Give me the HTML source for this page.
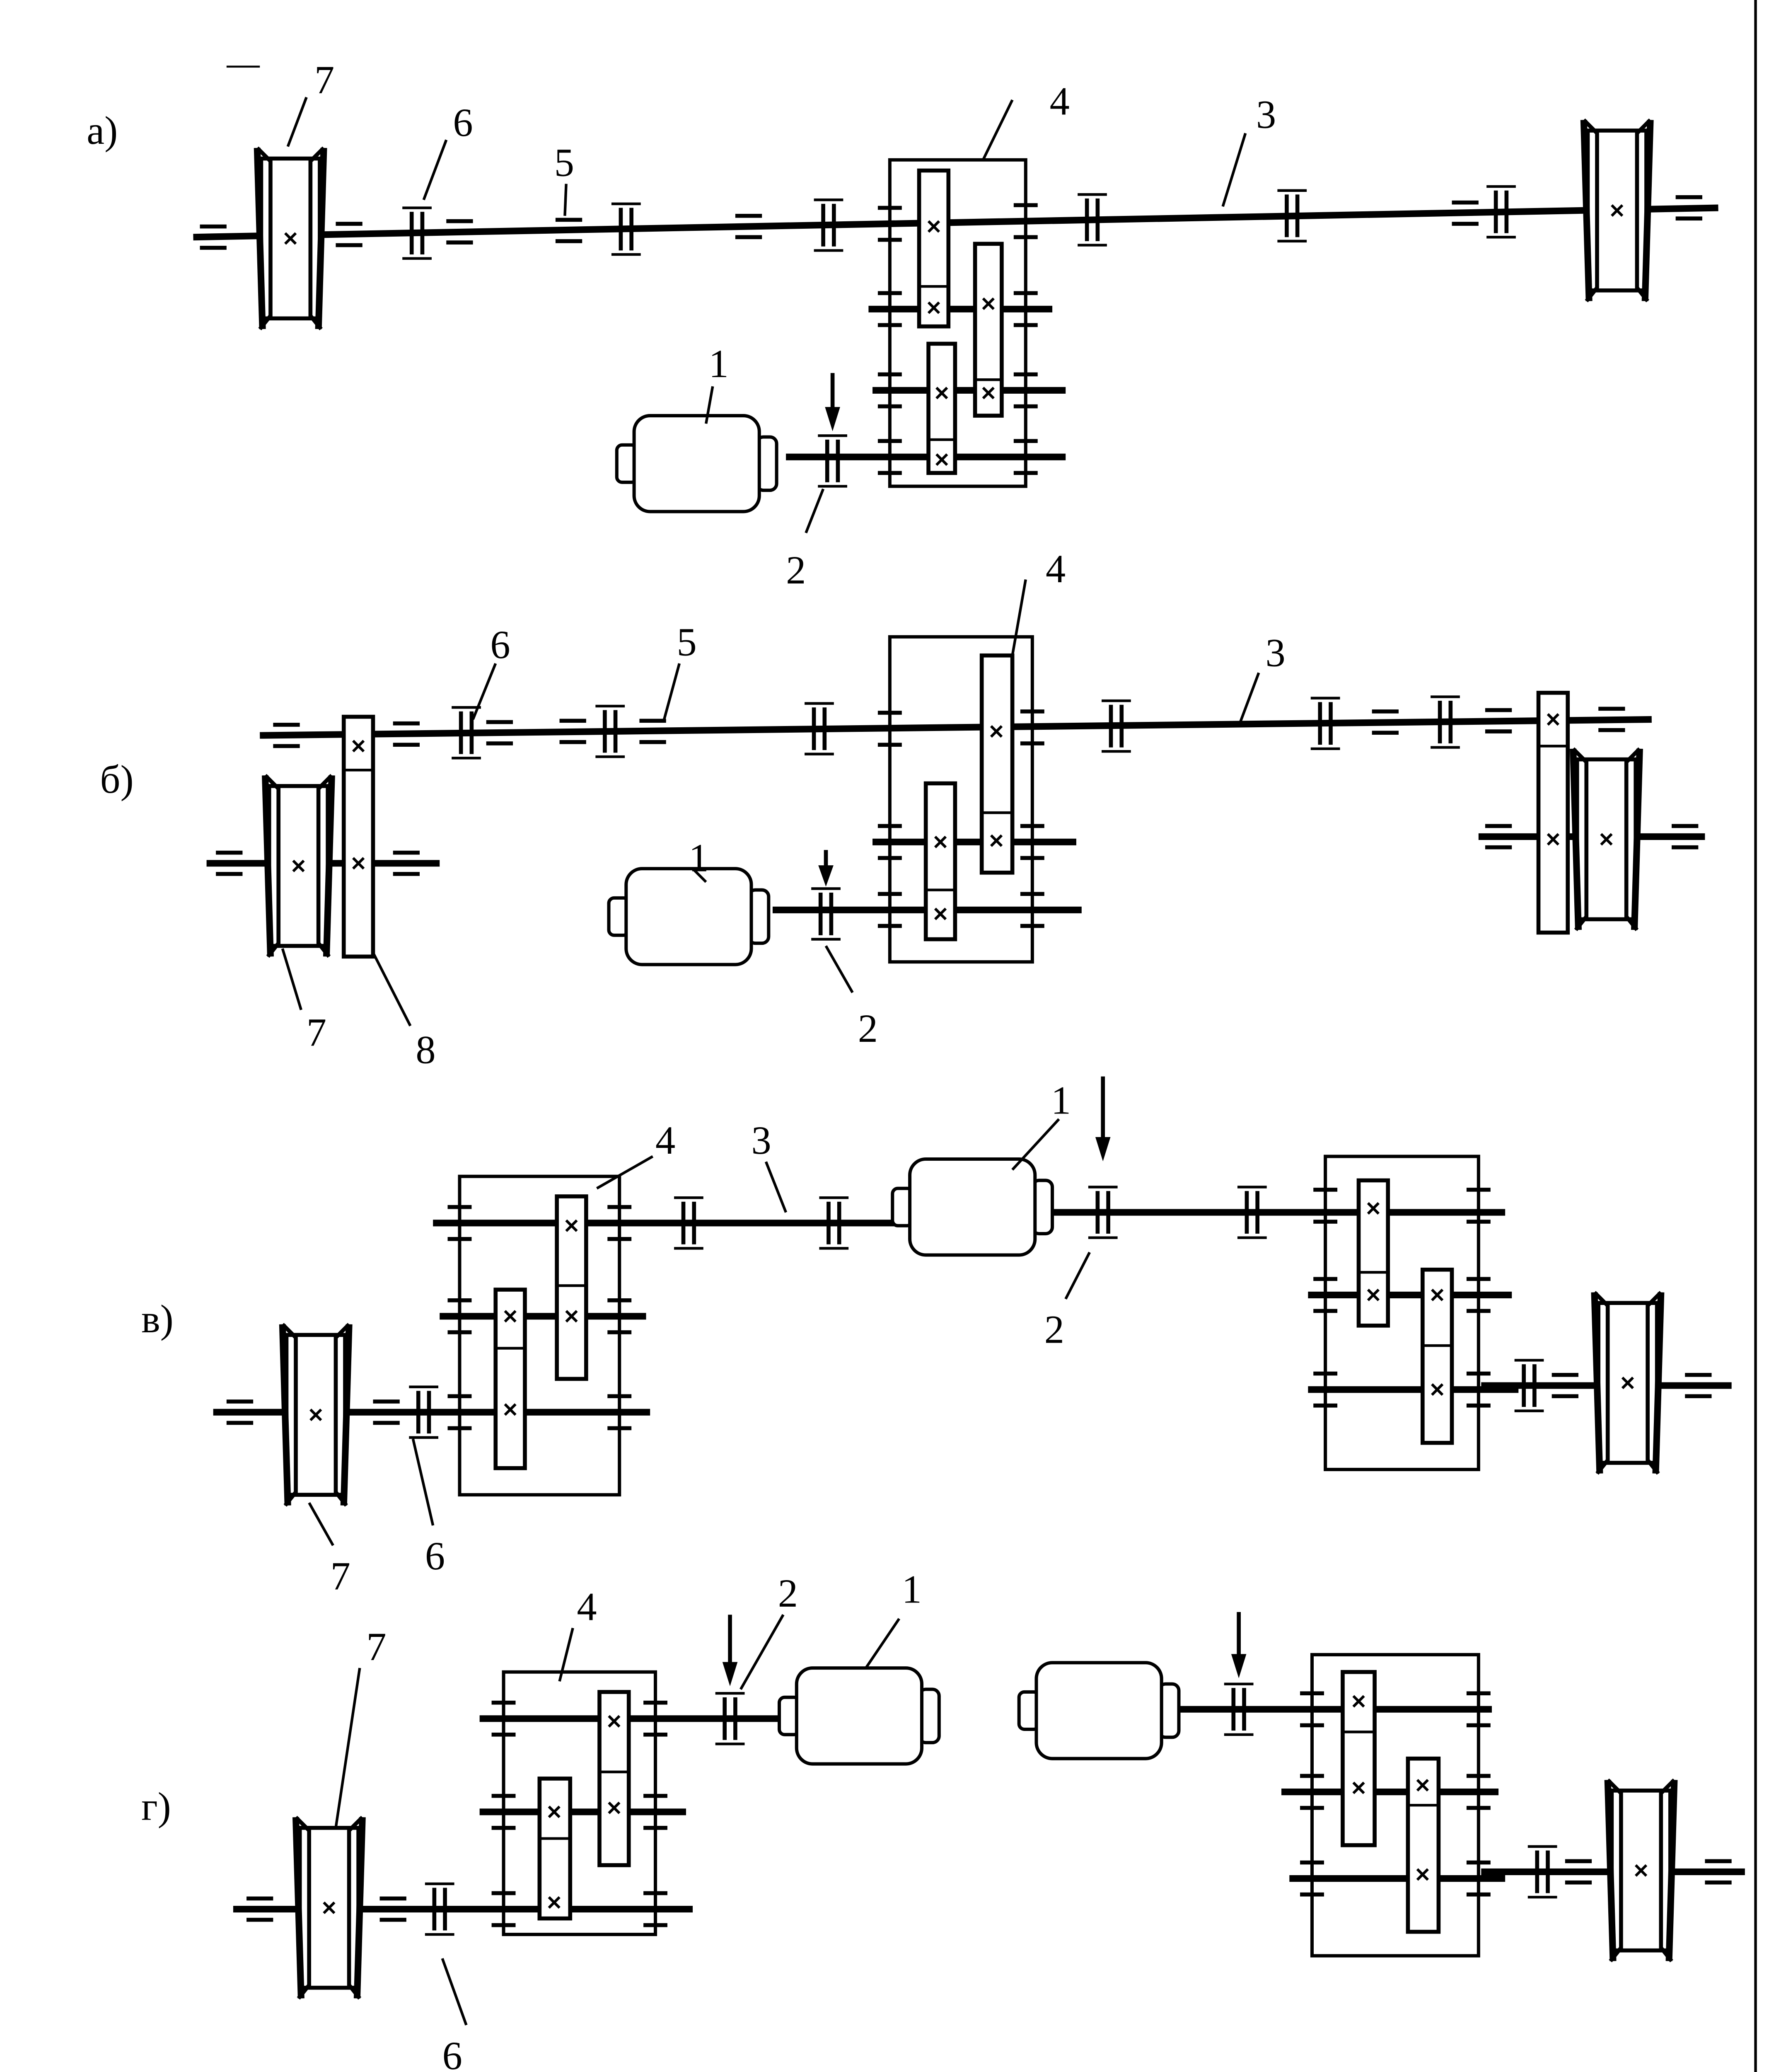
<!DOCTYPE html>
<html><head><meta charset="utf-8"><style>
html,body{margin:0;padding:0;background:#fff;overflow:hidden;width:4270px;height:5041px;}
svg{display:block;}
text{font-family:"Liberation Serif",serif;font-size:30px;fill:#000;stroke:none;}
</style></head><body>
<svg width="4270" height="5041" viewBox="0 0 1328 1568" xmlns="http://www.w3.org/2000/svg" xmlns:xlink="http://www.w3.org/1999/xlink">
<defs>
<g id="x" stroke="#000" stroke-width="2"><line x1="-4" y1="-4" x2="4" y2="4"/><line x1="-4" y1="4" x2="4" y2="-4"/></g>
<g id="c" stroke="#000"><line x1="-4" y1="-16" x2="-4" y2="16" stroke-width="3"/><line x1="4" y1="-16" x2="4" y2="16" stroke-width="3"/><line x1="-11" y1="-19" x2="11" y2="-19" stroke-width="2"/><line x1="-11" y1="19" x2="11" y2="19" stroke-width="2"/></g>
<g id="b" stroke="#000" stroke-width="3"><line x1="-10" y1="-8" x2="10" y2="-8"/><line x1="-10" y1="8" x2="10" y2="8"/></g>
<g id="k" stroke="#000" stroke-width="3"><line x1="-9" y1="-12" x2="9" y2="-12"/><line x1="-9" y1="12" x2="9" y2="12"/></g>
<g id="w" stroke="#000" fill="none">
<rect x="-22" y="-60" width="44" height="120" fill="#fff" stroke-width="3"/>
<line x1="-25" y1="-68" x2="-21" y2="68" stroke-width="5"/><line x1="25" y1="-68" x2="21" y2="68" stroke-width="5"/>
<line x1="-15" y1="-60" x2="-15" y2="60" stroke-width="3"/><line x1="15" y1="-60" x2="15" y2="60" stroke-width="3"/>
<line x1="-25" y1="-68" x2="-15" y2="-58" stroke-width="3"/><line x1="25" y1="-68" x2="15" y2="-58" stroke-width="3"/>
<line x1="-23" y1="68" x2="-15" y2="58" stroke-width="3"/><line x1="23" y1="68" x2="15" y2="58" stroke-width="3"/>
<use xlink:href="#x"/>
</g>
<g id="m" stroke="#000" stroke-width="2.5" fill="#fff">
<rect x="-13" y="22" width="15" height="28" rx="4"/><rect x="92" y="16" width="15" height="40" rx="5"/><rect x="0" y="0" width="94" height="72" rx="12"/>
</g>
</defs>
<g stroke="#000" fill="none">
<line x1="1318" y1="0" x2="1318" y2="1568" stroke-width="2"/>
<line x1="170" y1="50" x2="195" y2="50" stroke-width="1.5"/>

<!-- ===== a ===== -->
<line x1="145" y1="178" x2="1290" y2="156" stroke-width="5"/>
<line x1="652" y1="232" x2="790" y2="232" stroke-width="5"/>
<line x1="655" y1="293" x2="800" y2="293" stroke-width="5"/>
<line x1="590" y1="343" x2="800" y2="343" stroke-width="5"/>
<rect x="668" y="120" width="102" height="245" stroke-width="2.5"/>
<use xlink:href="#k" x="668" y="168"/><use xlink:href="#k" x="770" y="166"/>
<use xlink:href="#k" x="668" y="232"/><use xlink:href="#k" x="770" y="232"/>
<use xlink:href="#k" x="668" y="293"/><use xlink:href="#k" x="770" y="293"/>
<use xlink:href="#k" x="668" y="343"/><use xlink:href="#k" x="770" y="343"/>
<rect x="690" y="128" width="22" height="117" fill="#fff" stroke-width="3"/><line x1="690" y1="215" x2="712" y2="215" stroke-width="2"/>
<use xlink:href="#x" x="701" y="170"/><use xlink:href="#x" x="701" y="231"/>
<rect x="732" y="183" width="20" height="129" fill="#fff" stroke-width="3"/><line x1="732" y1="285" x2="752" y2="285" stroke-width="2"/>
<use xlink:href="#x" x="742" y="228"/><use xlink:href="#x" x="742" y="295"/>
<rect x="697" y="258" width="20" height="97" fill="#fff" stroke-width="3"/><line x1="697" y1="330" x2="717" y2="330" stroke-width="2"/>
<use xlink:href="#x" x="707" y="295"/><use xlink:href="#x" x="707" y="345"/>
<use xlink:href="#b" x="160" y="178"/><use xlink:href="#b" x="262" y="176"/><use xlink:href="#b" x="345" y="174"/><use xlink:href="#b" x="427" y="173"/><use xlink:href="#b" x="562" y="170"/><use xlink:href="#b" x="1100" y="160"/><use xlink:href="#b" x="1268" y="156"/>
<use xlink:href="#c" x="313" y="175"/><use xlink:href="#c" x="470" y="172"/><use xlink:href="#c" x="622" y="169"/><use xlink:href="#c" x="820" y="165"/><use xlink:href="#c" x="970" y="162"/><use xlink:href="#c" x="1127" y="159"/>
<use xlink:href="#w" x="218" y="179"/><use xlink:href="#w" x="1214" y="158"/>
<use xlink:href="#m" x="476" y="312"/>
<use xlink:href="#c" x="625" y="346"/>
<line x1="625" y1="280" x2="625" y2="310" stroke-width="3"/><path d="M620 306 L630 306 L625 322 Z" fill="#000" stroke-width="1"/>
<g stroke-width="2">
<line x1="605" y1="400" x2="618" y2="367"/><line x1="760" y1="75" x2="738" y2="120"/><line x1="935" y1="100" x2="918" y2="155"/>
<line x1="535" y1="290" x2="530" y2="318"/><line x1="230" y1="73" x2="216" y2="110"/><line x1="335" y1="105" x2="318" y2="150"/><line x1="425" y1="138" x2="424" y2="162"/>
</g>

<!-- ===== б ===== -->
<line x1="195" y1="552" x2="1240" y2="540" stroke-width="5"/>
<line x1="155" y1="648" x2="330" y2="648" stroke-width="5"/>
<line x1="655" y1="632" x2="808" y2="632" stroke-width="5"/>
<line x1="580" y1="683" x2="812" y2="683" stroke-width="5"/>
<line x1="1110" y1="628" x2="1280" y2="628" stroke-width="5"/>
<rect x="668" y="478" width="107" height="244" stroke-width="2.5"/>
<use xlink:href="#k" x="668" y="547"/><use xlink:href="#k" x="775" y="546"/>
<use xlink:href="#k" x="668" y="632"/><use xlink:href="#k" x="775" y="632"/>
<use xlink:href="#k" x="668" y="683"/><use xlink:href="#k" x="775" y="683"/>
<rect x="737" y="492" width="23" height="163" fill="#fff" stroke-width="3"/><line x1="737" y1="610" x2="760" y2="610" stroke-width="2"/>
<use xlink:href="#x" x="748" y="549"/><use xlink:href="#x" x="748" y="631"/>
<rect x="695" y="588" width="22" height="117" fill="#fff" stroke-width="3"/><line x1="695" y1="668" x2="717" y2="668" stroke-width="2"/>
<use xlink:href="#x" x="706" y="632"/><use xlink:href="#x" x="706" y="686"/>
<use xlink:href="#b" x="215" y="552"/><use xlink:href="#b" x="305" y="551"/><use xlink:href="#b" x="375" y="550"/><use xlink:href="#b" x="430" y="549"/><use xlink:href="#b" x="490" y="549"/><use xlink:href="#b" x="1040" y="542"/><use xlink:href="#b" x="1125" y="541"/><use xlink:href="#b" x="1210" y="540"/>
<use xlink:href="#c" x="350" y="550"/><use xlink:href="#c" x="458" y="549"/><use xlink:href="#c" x="615" y="547"/><use xlink:href="#c" x="838" y="545"/><use xlink:href="#c" x="995" y="543"/><use xlink:href="#c" x="1085" y="542"/>
<use xlink:href="#b" x="172" y="648"/><use xlink:href="#b" x="305" y="648"/><use xlink:href="#b" x="1125" y="628"/><use xlink:href="#b" x="1265" y="628"/>
<use xlink:href="#w" x="224" y="650"/>
<rect x="258" y="538" width="22" height="180" fill="#fff" stroke-width="3"/><line x1="258" y1="578" x2="280" y2="578" stroke-width="2"/>
<use xlink:href="#x" x="269" y="560"/><use xlink:href="#x" x="269" y="648"/>
<rect x="1155" y="520" width="22" height="180" fill="#fff" stroke-width="3"/><line x1="1155" y1="560" x2="1177" y2="560" stroke-width="2"/>
<use xlink:href="#x" x="1166" y="540"/><use xlink:href="#x" x="1166" y="630"/>
<use xlink:href="#w" x="1206" y="630"/>
<use xlink:href="#m" x="470" y="652"/>
<use xlink:href="#c" x="620" y="686"/>
<line x1="620" y1="638" x2="620" y2="652" stroke-width="3"/><path d="M615 650 L625 650 L620 664 Z" fill="#000" stroke-width="1"/>
<g stroke-width="2">
<line x1="620" y1="710" x2="640" y2="745"/><line x1="770" y1="435" x2="760" y2="492"/><line x1="945" y1="505" x2="930" y2="545"/>
<line x1="520" y1="652" x2="530" y2="662"/><line x1="226" y1="758" x2="212" y2="712"/><line x1="308" y1="770" x2="280" y2="715"/>
<line x1="372" y1="498" x2="355" y2="540"/><line x1="510" y1="498" x2="498" y2="542"/>
</g>

<!-- ===== в ===== -->
<line x1="325" y1="918" x2="680" y2="918" stroke-width="5"/>
<line x1="330" y1="988" x2="485" y2="988" stroke-width="5"/>
<line x1="160" y1="1060" x2="488" y2="1060" stroke-width="5"/>
<line x1="775" y1="910" x2="1130" y2="910" stroke-width="5"/>
<line x1="982" y1="972" x2="1135" y2="972" stroke-width="5"/>
<line x1="982" y1="1043" x2="1140" y2="1043" stroke-width="5"/>
<line x1="1112" y1="1040" x2="1300" y2="1040" stroke-width="5"/>
<rect x="345" y="883" width="120" height="239" stroke-width="2.5"/>
<use xlink:href="#k" x="345" y="918"/><use xlink:href="#k" x="465" y="918"/>
<use xlink:href="#k" x="345" y="988"/><use xlink:href="#k" x="465" y="988"/>
<use xlink:href="#k" x="345" y="1060"/><use xlink:href="#k" x="465" y="1060"/>
<rect x="418" y="898" width="22" height="137" fill="#fff" stroke-width="3"/><line x1="418" y1="965" x2="440" y2="965" stroke-width="2"/>
<use xlink:href="#x" x="429" y="920"/><use xlink:href="#x" x="429" y="988"/>
<rect x="372" y="968" width="22" height="134" fill="#fff" stroke-width="3"/><line x1="372" y1="1012" x2="394" y2="1012" stroke-width="2"/>
<use xlink:href="#x" x="383" y="988"/><use xlink:href="#x" x="383" y="1058"/>
<rect x="995" y="868" width="115" height="235" stroke-width="2.5"/>
<use xlink:href="#k" x="995" y="905"/><use xlink:href="#k" x="1110" y="905"/>
<use xlink:href="#k" x="995" y="972"/><use xlink:href="#k" x="1110" y="972"/>
<use xlink:href="#k" x="995" y="1043"/><use xlink:href="#k" x="1110" y="1043"/>
<rect x="1020" y="886" width="22" height="109" fill="#fff" stroke-width="3"/><line x1="1020" y1="955" x2="1042" y2="955" stroke-width="2"/>
<use xlink:href="#x" x="1031" y="907"/><use xlink:href="#x" x="1031" y="972"/>
<rect x="1068" y="953" width="22" height="130" fill="#fff" stroke-width="3"/><line x1="1068" y1="1010" x2="1090" y2="1010" stroke-width="2"/>
<use xlink:href="#x" x="1079" y="972"/><use xlink:href="#x" x="1079" y="1043"/>
<use xlink:href="#c" x="517" y="918"/><use xlink:href="#c" x="626" y="918"/>
<use xlink:href="#m" x="683" y="870"/>
<use xlink:href="#c" x="828" y="910"/><use xlink:href="#c" x="940" y="910"/>
<line x1="828" y1="808" x2="828" y2="856" stroke-width="3"/><path d="M823 854 L833 854 L828 870 Z" fill="#000" stroke-width="1"/>
<use xlink:href="#c" x="1148" y="1040"/><use xlink:href="#b" x="1175" y="1040"/><use xlink:href="#b" x="1275" y="1040"/>
<use xlink:href="#w" x="1222" y="1038"/>
<use xlink:href="#b" x="180" y="1060"/><use xlink:href="#b" x="290" y="1060"/><use xlink:href="#c" x="318" y="1060"/>
<use xlink:href="#w" x="237" y="1062"/>
<g stroke-width="2">
<line x1="490" y1="868" x2="448" y2="892"/><line x1="575" y1="872" x2="590" y2="910"/><line x1="795" y1="840" x2="760" y2="878"/>
<line x1="818" y1="940" x2="800" y2="975"/><line x1="250" y1="1160" x2="232" y2="1128"/><line x1="325" y1="1145" x2="310" y2="1080"/>
</g>

<!-- ===== г ===== -->
<line x1="360" y1="1290" x2="590" y2="1290" stroke-width="5"/>
<line x1="360" y1="1360" x2="515" y2="1360" stroke-width="5"/>
<line x1="175" y1="1433" x2="520" y2="1433" stroke-width="5"/>
<line x1="875" y1="1283" x2="1120" y2="1283" stroke-width="5"/>
<line x1="962" y1="1345" x2="1125" y2="1345" stroke-width="5"/>
<line x1="968" y1="1410" x2="1130" y2="1410" stroke-width="5"/>
<line x1="1112" y1="1405" x2="1310" y2="1405" stroke-width="5"/>
<rect x="378" y="1255" width="114" height="197" stroke-width="2.5"/>
<use xlink:href="#k" x="378" y="1290"/><use xlink:href="#k" x="492" y="1290"/>
<use xlink:href="#k" x="378" y="1360"/><use xlink:href="#k" x="492" y="1360"/>
<use xlink:href="#k" x="378" y="1433"/><use xlink:href="#k" x="492" y="1433"/>
<rect x="450" y="1270" width="22" height="130" fill="#fff" stroke-width="3"/><line x1="450" y1="1330" x2="472" y2="1330" stroke-width="2"/>
<use xlink:href="#x" x="461" y="1292"/><use xlink:href="#x" x="461" y="1357"/>
<rect x="405" y="1335" width="23" height="105" fill="#fff" stroke-width="3"/><line x1="405" y1="1380" x2="428" y2="1380" stroke-width="2"/>
<use xlink:href="#x" x="416" y="1360"/><use xlink:href="#x" x="416" y="1428"/>
<rect x="985" y="1242" width="125" height="226" stroke-width="2.5"/>
<use xlink:href="#k" x="985" y="1283"/><use xlink:href="#k" x="1110" y="1283"/>
<use xlink:href="#k" x="985" y="1345"/><use xlink:href="#k" x="1110" y="1345"/>
<use xlink:href="#k" x="985" y="1410"/><use xlink:href="#k" x="1110" y="1410"/>
<rect x="1008" y="1255" width="24" height="130" fill="#fff" stroke-width="3"/><line x1="1008" y1="1300" x2="1032" y2="1300" stroke-width="2"/>
<use xlink:href="#x" x="1020" y="1277"/><use xlink:href="#x" x="1020" y="1342"/>
<rect x="1057" y="1320" width="23" height="130" fill="#fff" stroke-width="3"/><line x1="1057" y1="1355" x2="1080" y2="1355" stroke-width="2"/>
<use xlink:href="#x" x="1068" y="1340"/><use xlink:href="#x" x="1068" y="1407"/>
<use xlink:href="#c" x="548" y="1290"/>
<line x1="548" y1="1212" x2="548" y2="1250" stroke-width="3"/><path d="M543 1248 L553 1248 L548 1264 Z" fill="#000" stroke-width="1"/>
<use xlink:href="#m" x="598" y="1252"/>
<use xlink:href="#m" x="778" y="1248"/>
<use xlink:href="#c" x="930" y="1283"/>
<line x1="930" y1="1210" x2="930" y2="1244" stroke-width="3"/><path d="M925 1242 L935 1242 L930 1258 Z" fill="#000" stroke-width="1"/>
<use xlink:href="#c" x="1158" y="1405"/><use xlink:href="#b" x="1185" y="1405"/><use xlink:href="#b" x="1290" y="1405"/>
<use xlink:href="#w" x="1232" y="1404"/>
<use xlink:href="#b" x="195" y="1433"/><use xlink:href="#b" x="295" y="1433"/><use xlink:href="#c" x="330" y="1433"/>
<use xlink:href="#w" x="247" y="1432"/>
<g stroke-width="2">
<line x1="588" y1="1212" x2="556" y2="1268"/><line x1="675" y1="1215" x2="650" y2="1252"/><line x1="430" y1="1222" x2="420" y2="1262"/>
<line x1="270" y1="1252" x2="252" y2="1372"/><line x1="350" y1="1520" x2="332" y2="1470"/>
</g>
</g>

<g>
<text x="65" y="108">а)</text>
<text x="236" y="70">7</text><text x="340" y="102">6</text><text x="416" y="132">5</text>
<text x="788" y="86">4</text><text x="943" y="96">3</text><text x="532" y="283">1</text><text x="590" y="438">2</text>
<text x="75" y="595">б)</text>
<text x="368" y="494">6</text><text x="508" y="492">5</text><text x="785" y="437">4</text><text x="950" y="500">3</text>
<text x="517" y="654">1</text><text x="644" y="782">2</text><text x="230" y="785">7</text><text x="312" y="798">8</text>
<text x="106" y="1000">в)</text>
<text x="492" y="866">4</text><text x="564" y="866">3</text><text x="789" y="836">1</text><text x="784" y="1008">2</text>
<text x="248" y="1193">7</text><text x="319" y="1178">6</text>
<text x="106" y="1366">г)</text>
<text x="275" y="1246">7</text><text x="433" y="1216">4</text><text x="584" y="1206">2</text><text x="677" y="1203">1</text>
<text x="332" y="1553">6</text>
</g>
</svg>
</body></html>
